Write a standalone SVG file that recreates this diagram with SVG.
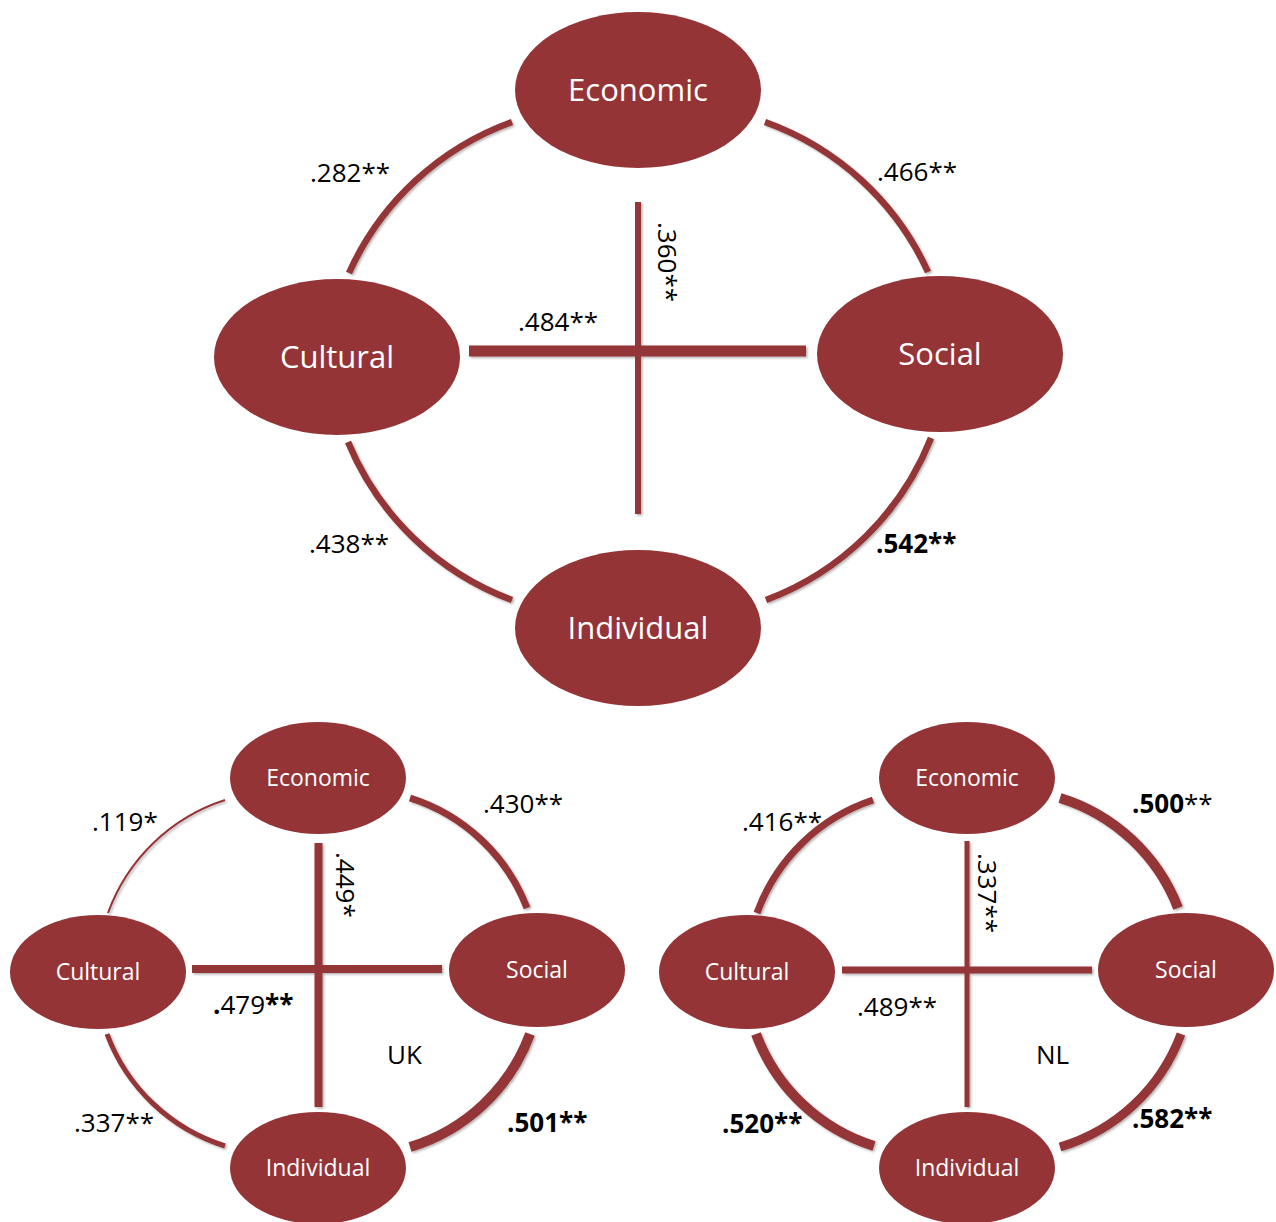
<svg xmlns="http://www.w3.org/2000/svg" width="1276" height="1222" viewBox="0 0 1276 1222">
<style>
  .node { fill: #943437; }
  .nl { fill: #ffffff; font-family: "Open Sans", "Liberation Sans", sans-serif; text-anchor: middle; }
  .big { font-size: 31px; }
  .small { font-size: 23px; }
  .c { fill: none; stroke: #943437; }
  .lab { fill: #000000; font-family: "Open Sans", "Liberation Sans", sans-serif; font-size: 26px; }
  .b { font-weight: bold; }
</style>
<defs>
  <filter id="sh" x="-10%" y="-10%" width="120%" height="120%">
    <feDropShadow dx="1.5" dy="1.5" stdDeviation="1" flood-color="#000" flood-opacity="0.3"/>
  </filter>
</defs>
<rect width="1276" height="1222" fill="#ffffff"/>

<g id="connectors" filter="url(#sh)">
  <!-- top diagram -->
  <path class="c" stroke-width="6.5" d="M512,122 A285,285 0 0 0 349,273"/>
  <path class="c" stroke-width="6.5" d="M765,122 A285,285 0 0 1 928,272"/>
  <path class="c" stroke-width="6.5" d="M348,442 A285,285 0 0 0 512,600"/>
  <path class="c" stroke-width="6.5" d="M931,438 A285,285 0 0 1 766,600"/>
  <line class="c" stroke-width="6" x1="638" y1="202" x2="638" y2="514"/>
  <line class="c" stroke-width="11" x1="469" y1="351" x2="806" y2="351"/>
  <!-- UK -->
  <path class="c" stroke-width="2" d="M225,800 A185,185 0 0 0 108,913"/>
  <path class="c" stroke-width="7" d="M410,798 A185,185 0 0 1 527,908"/>
  <path class="c" stroke-width="5" d="M107,1034 A185,185 0 0 0 225,1146"/>
  <path class="c" stroke-width="10" d="M530,1034 A185,185 0 0 1 410,1147"/>
  <line class="c" stroke-width="8" x1="318.5" y1="843" x2="318.5" y2="1107"/>
  <line class="c" stroke-width="8" x1="192" y1="969" x2="442" y2="969"/>
  <!-- NL -->
  <path class="c" stroke-width="7" d="M873,800 A185,185 0 0 0 757,913"/>
  <path class="c" stroke-width="10" d="M1060,798 A185,185 0 0 1 1178,908"/>
  <path class="c" stroke-width="10" d="M756,1034 A185,185 0 0 0 874,1146"/>
  <path class="c" stroke-width="9" d="M1181,1034 A185,185 0 0 1 1060,1147"/>
  <line class="c" stroke-width="5" x1="967" y1="841" x2="967" y2="1107"/>
  <line class="c" stroke-width="7" x1="842" y1="970" x2="1092" y2="970"/>
</g>

<g id="top-economic"><ellipse class="node" cx="638" cy="90" rx="123" ry="78"/><text class="nl big" x="638" y="101">Economic</text></g>
<g id="top-cultural"><ellipse class="node" cx="337" cy="357" rx="123" ry="78"/><text class="nl big" x="337" y="368">Cultural</text></g>
<g id="top-social"><ellipse class="node" cx="940" cy="354" rx="123" ry="78"/><text class="nl big" x="940" y="365">Social</text></g>
<g id="top-individual"><ellipse class="node" cx="638" cy="628" rx="123" ry="78"/><text class="nl big" x="638" y="639">Individual</text></g>

<g id="uk-economic"><ellipse class="node" cx="318" cy="778" rx="88" ry="56"/><text class="nl small" x="318" y="786">Economic</text></g>
<g id="uk-cultural"><ellipse class="node" cx="98" cy="972" rx="88" ry="57"/><text class="nl small" x="98" y="980">Cultural</text></g>
<g id="uk-social"><ellipse class="node" cx="537" cy="970" rx="88" ry="57"/><text class="nl small" x="537" y="978">Social</text></g>
<g id="uk-individual"><ellipse class="node" cx="318" cy="1168" rx="88" ry="56"/><text class="nl small" x="318" y="1176">Individual</text></g>

<g id="nl-economic"><ellipse class="node" cx="967" cy="778" rx="88" ry="56"/><text class="nl small" x="967" y="786">Economic</text></g>
<g id="nl-cultural"><ellipse class="node" cx="747" cy="972" rx="88" ry="57"/><text class="nl small" x="747" y="980">Cultural</text></g>
<g id="nl-social"><ellipse class="node" cx="1186" cy="970" rx="88" ry="57"/><text class="nl small" x="1186" y="978">Social</text></g>
<g id="nl-individual"><ellipse class="node" cx="967" cy="1168" rx="88" ry="56"/><text class="nl small" x="967" y="1176">Individual</text></g>

<g id="labels">
  <text class="lab" x="310" y="182">.282**</text>
  <text class="lab" x="877" y="181">.466**</text>
  <text class="lab" x="518" y="331">.484**</text>
  <text class="lab" transform="translate(658,222) rotate(90)">.360**</text>
  <text class="lab" x="309" y="553">.438**</text>
  <text class="lab b" x="876" y="553">.542**</text>

  <text class="lab" x="92" y="831">.119*</text>
  <text class="lab" x="483" y="813">.430**</text>
  <text class="lab" transform="translate(336,852) rotate(90)">.449*</text>
  <text class="lab" x="213" y="1014"><tspan class="b">.</tspan>479<tspan class="b">**</tspan></text>
  <text class="lab" x="387" y="1064">UK</text>
  <text class="lab" x="74" y="1132">.337**</text>
  <text class="lab b" x="507" y="1132">.501**</text>

  <text class="lab" x="742" y="831">.416**</text>
  <text class="lab" x="1132" y="813"><tspan class="b">.500</tspan>**</text>
  <text class="lab" transform="translate(978,853) rotate(90)">.337**</text>
  <text class="lab" x="857" y="1016">.489**</text>
  <text class="lab" x="1036" y="1064">NL</text>
  <text class="lab b" x="722" y="1133">.520**</text>
  <text class="lab b" x="1132" y="1128">.582**</text>
</g>
</svg>
